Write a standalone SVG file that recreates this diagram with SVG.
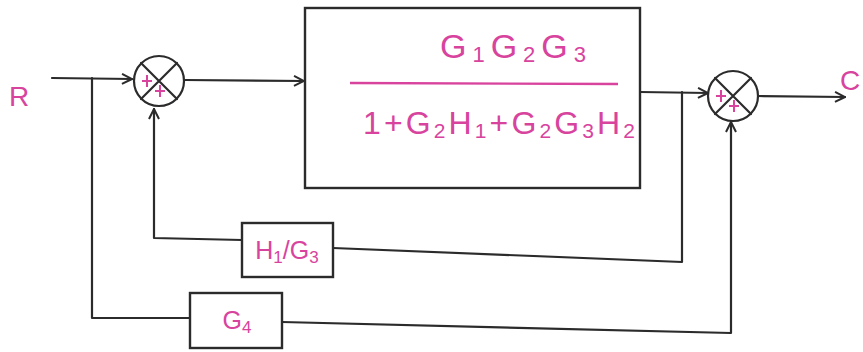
<svg xmlns="http://www.w3.org/2000/svg" width="863" height="352" viewBox="0 0 863 352">
<style>
.ln{fill:none;stroke:#2b2b2b;stroke-width:2.2;stroke-linecap:round;stroke-linejoin:round}
.bx{fill:#fff;stroke:#2b2b2b;stroke-width:2.4}
.pk{fill:#d8439e;font-family:"Liberation Sans",sans-serif}
.sg{fill:none;stroke:#d8439e;stroke-width:2}
</style>
<defs>
<marker id="ah" viewBox="0 0 12 12" refX="11" refY="6" markerWidth="12" markerHeight="12" markerUnits="userSpaceOnUse" orient="auto">
<path d="M1,1 L11,6 L1,11" fill="none" stroke="#2b2b2b" stroke-width="2"/>
</marker>
</defs>
<rect width="863" height="352" fill="#fff"/>
<text class="pk" x="9" y="106" font-size="28">R</text>
<text class="pk" x="840" y="90" font-size="28">C</text>
<g id="connectors">
<path class="ln" d="M52,78 L132,79" marker-end="url(#ah)"/>
<path class="ln" d="M92,78 L92,318 L190,318"/>
<path class="ln" d="M185,80 L304,81" marker-end="url(#ah)"/>
<path class="ln" d="M242,240 L154,238 L154,109" marker-end="url(#ah)"/>
<path class="ln" d="M640,92 L708,93" marker-end="url(#ah)"/>
<path class="ln" d="M333,248 L682,262 L682,92"/>
<path class="ln" d="M282,322 L731,333 L731,122" marker-end="url(#ah)"/>
<path class="ln" d="M758,96 L845,97" marker-end="url(#ah)"/>
</g>
<g id="sum1">
<circle class="ln" cx="159" cy="81" r="25"/>
<path class="ln" d="M141,63 L177,99 M177,63 L141,99"/>
<path class="sg" d="M142,81 L152,81 M147,75 L147,87 M155,91 L165,91 M160,85 L160,97"/>
</g>
<g id="block_main">
<rect class="bx" x="305" y="8" width="335" height="180"/>
<path d="M350,83 L618,84" stroke="#d8439e" stroke-width="2.4"/>
<text class="pk" x="440" y="58" font-size="34" textLength="146" lengthAdjust="spacing">G<tspan font-size="22" dy="4">1</tspan><tspan dy="-4">G</tspan><tspan font-size="22" dy="4">2</tspan><tspan dy="-4">G</tspan><tspan font-size="22" dy="4">3</tspan></text>
<text class="pk" x="363" y="134" font-size="32" textLength="272" lengthAdjust="spacing">1+G<tspan font-size="21" dy="4">2</tspan><tspan dy="-4">H</tspan><tspan font-size="21" dy="4">1</tspan><tspan dy="-4">+G</tspan><tspan font-size="21" dy="4">2</tspan><tspan dy="-4">G</tspan><tspan font-size="21" dy="4">3</tspan><tspan dy="-4">H</tspan><tspan font-size="21" dy="4">2</tspan></text>
</g>
<g id="sum2">
<circle class="ln" cx="733" cy="96" r="25"/>
<path class="ln" d="M715,78 L751,114 M751,78 L715,114"/>
<path class="sg" d="M716,96 L726,96 M721,90 L721,102 M729,106 L739,106 M734,100 L734,112"/>
</g>
<g id="block_h1g3">
<rect class="bx" x="242" y="223" width="91" height="54"/>
<text class="pk" x="287" y="259" font-size="25" text-anchor="middle">H<tspan font-size="17" dy="4">1</tspan><tspan dy="-4">/G</tspan><tspan font-size="17" dy="4">3</tspan></text>
</g>
<g id="block_g4">
<rect class="bx" x="190" y="293" width="92" height="55"/>
<text class="pk" x="237" y="329" font-size="25" text-anchor="middle">G<tspan font-size="17" dy="4">4</tspan></text>
</g>
</svg>
